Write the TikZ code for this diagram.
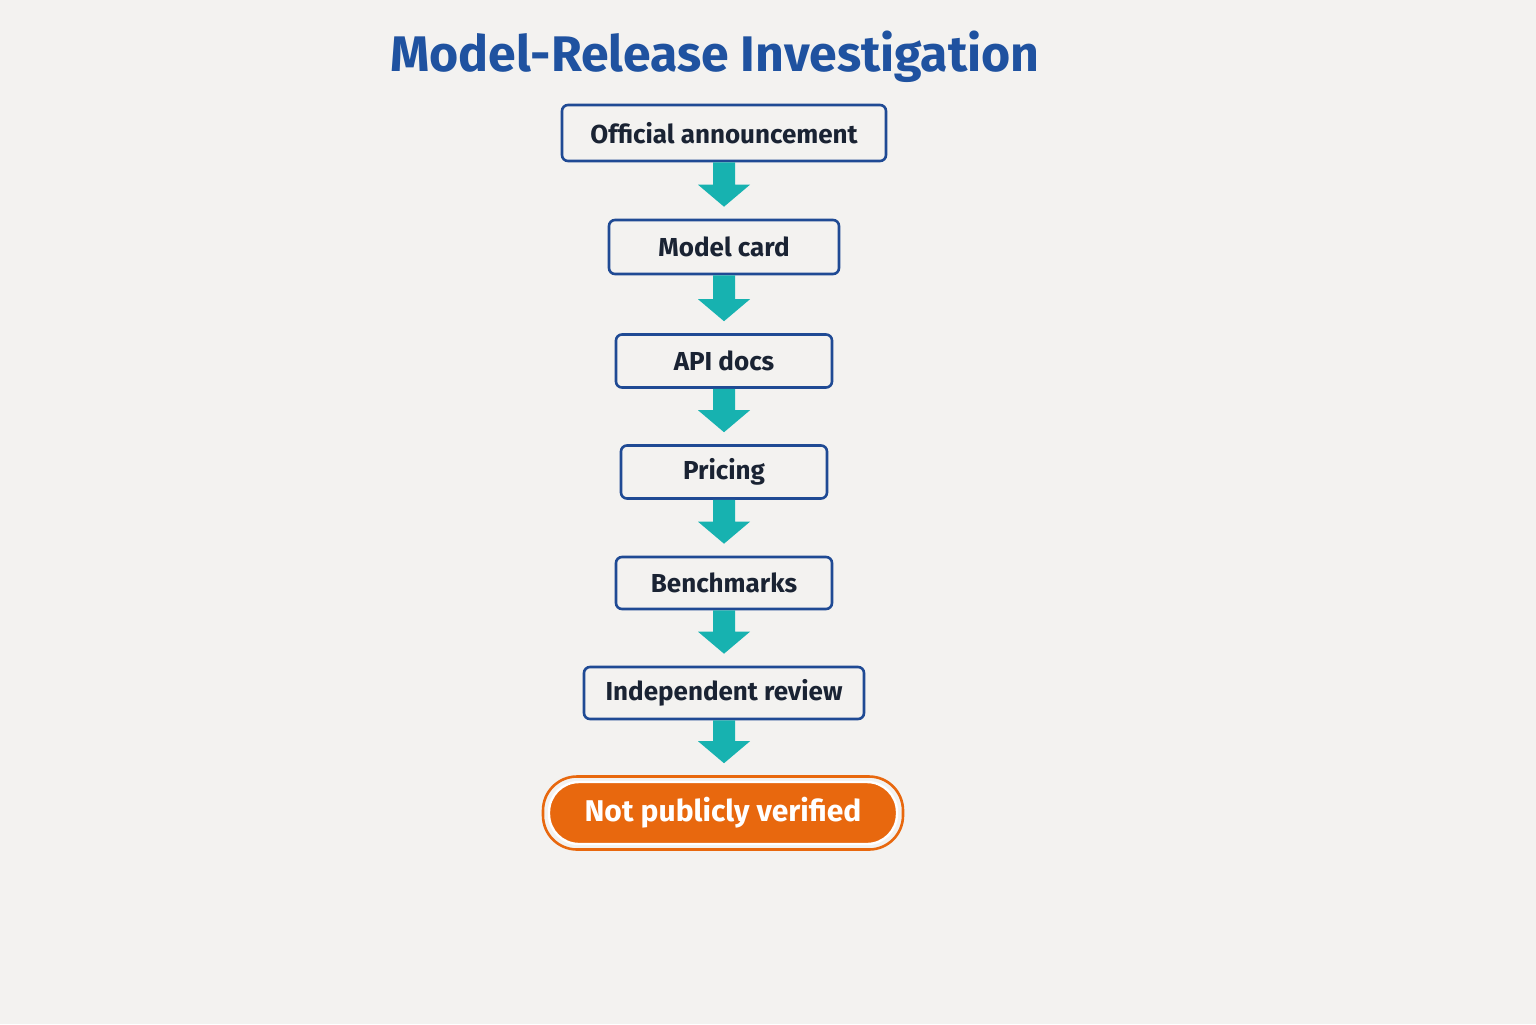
\documentclass[tikz,border=0pt]{standalone}
\usepackage{fontspec}
\setmainfont{Fira Sans}
\usetikzlibrary{calc}
\definecolor{bg}{HTML}{F3F2F0}
\definecolor{tblue}{HTML}{1F52A0}
\definecolor{bblue}{HTML}{1F4A94}
\definecolor{txt}{HTML}{1A2333}
\definecolor{teal}{HTML}{17B2B0}
\definecolor{orng}{HTML}{E8680E}
\begin{document}
\begin{tikzpicture}[x=0.5pt,y=-0.5pt,
  box/.style={draw=bblue,line width=1.3pt,rounded corners=3pt,fill=bg,text=txt,font=\fontsize{13}{15}\selectfont\bfseries,inner sep=0pt},
  flow/.style={fill=teal}]
\fill[bg] (0,0) rectangle (1536,1024);
\useasboundingbox (0,0) rectangle (1536,1024);
\node[text=tblue,font=\fontsize{25}{30}\selectfont\bfseries] (title) at (715,57) {Model-Release Investigation};
\node[box,minimum width=162pt,minimum height=28pt] (a) at (724,133) {Official announcement};
\node[box,minimum width=115pt,minimum height=27pt] (b) at (724,247) {Model card};
\node[box,minimum width=108pt,minimum height=26.5pt] (c) at (724,361) {API docs};
\node[box,minimum width=103pt,minimum height=26.5pt] (d) at (724,472) {Pricing};
\node[box,minimum width=108pt,minimum height=26pt] (e) at (724,583) {Benchmarks};
\node[box,minimum width=140pt,minimum height=26pt] (f) at (724,693) {Independent review};
\node[draw=orng,line width=1.3pt,rounded corners=17pt,minimum width=180pt,minimum height=36.5pt,fill=bg] (gout) at (723,813) {};
\node[fill=orng,draw=white,line width=1.2pt,rounded corners=15pt,minimum width=174pt,minimum height=31pt,text=white,font=\fontsize{15}{18}\selectfont\bfseries,inner sep=0pt] (g) at (723,813) {Not publicly verified};
\foreach \u/\v in {a/b,b/c,c/d,d/e,e/f,f/gout}{
  \path[flow] let \p1=(\u.south),\p2=(\v.north) in
    (\x1-5.5pt,\y1) -- (\x1+5.5pt,\y1) -- (\x1+5.5pt,\y2+17pt) -- (\x1+13pt,\y2+17pt)
    -- (\x1,\y2+6pt) -- (\x1-13pt,\y2+17pt) -- (\x1-5.5pt,\y2+17pt) -- cycle;
}
\end{tikzpicture}
\end{document}
